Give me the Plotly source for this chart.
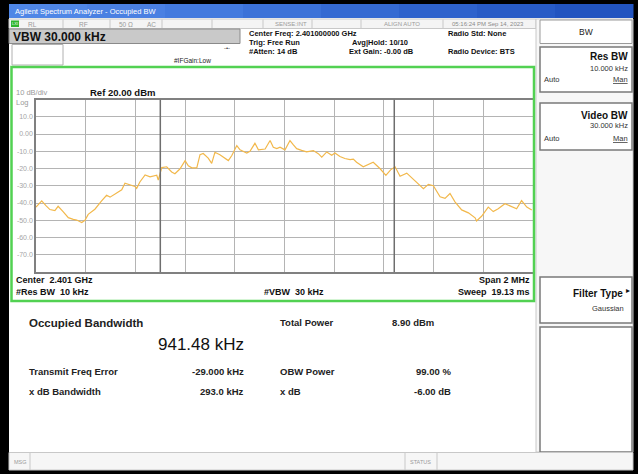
import plotly.graph_objects as go

# ---------------- data ----------------
freq_offset_khz = [-1000, -977, -960, -944, -924, -911, -891, -870, -850, -836, -816, -803,
                   -790, -776, -763, -736, -716, -702, -675, -655, -642, -622, -602, -595,
                   -582, -561, -541, -514, -508, -494, -474, -454, -441, -421, -400, -387,
                   -373, -353, -340, -327, -307, -293, -280, -260, -239, -226, -212, -192,
                   -179, -152, -139, -119, -105, -78, -58, -45, -31, -18, 2, 22, 35, 49, 69,
                   89, 116, 136, 150, 170, 190, 203, 223, 243, 264, 277, 290, 317, 357, 384,
                   408, 427, 445, 465, 492, 518, 532, 559, 579, 599, 626, 646, 666, 686, 713,
                   740, 767, 773, 793, 820, 840, 860, 887, 907, 934, 954, 975, 995]
level_dbm = [-42.4, -38.8, -41.5, -43.8, -44.4, -41.9, -45.0, -48.5, -49.5, -49.9, -51.3, -50.0,
             -46.6, -44.8, -43.6, -38.8, -35.5, -36.6, -34.0, -32.3, -28.5, -29.6, -30.4, -31.5,
             -27.8, -23.7, -24.8, -23.9, -26.7, -19.5, -19.0, -22.0, -23.0, -20.3, -15.5, -18.4,
             -19.6, -19.6, -12.0, -11.3, -14.0, -17.0, -10.6, -12.0, -13.8, -15.4, -12.5, -6.7,
             -9.2, -11.0, -10.0, -5.4, -9.2, -8.7, -3.8, -7.7, -8.5, -7.6, -9.2, -3.8, -6.2,
             -8.5, -9.5, -10.4, -9.6, -11.4, -13.4, -10.4, -12.3, -11.0, -13.0, -14.2, -14.8,
             -14.6, -16.4, -19.0, -16.4, -20.0, -24.0, -20.8, -19.0, -24.5, -22.7, -26.2, -28.0,
             -31.7, -29.2, -30.0, -36.4, -37.3, -34.5, -39.3, -44.0, -45.7, -48.6, -50.4, -47.7,
             -42.4, -45.0, -43.3, -40.4, -41.5, -43.3, -38.6, -42.4, -44.0]

ref_level = 20
db_per_div = 10
y_ticks = [10, 0, -10, -20, -30, -40, -50, -60, -70]
y_tick_labels = ["10.0", "0.00", "-10.0", "-20.0", "-30.0", "-40.0", "-50.0", "-60.0", "-70.0"]
span_khz = 2000
freq_error_khz = -29.0
obw_khz = 941.48

# ---------------- helpers ----------------
W, H = 638, 474
FONT = "Liberation Sans, Arial, sans-serif"


def px(x):
    return x / W


def py(y):
    return 1 - y / H


shapes = []
annots = []


def rect(x0, y0, x1, y1, fill="rgba(0,0,0,0)", line="rgba(0,0,0,0)", lw=1, layer="above"):
    shapes.append(dict(type="rect", xref="paper", yref="paper", x0=px(x0), x1=px(x1),
                       y0=py(y1), y1=py(y0), fillcolor=fill, line=dict(color=line, width=lw),
                       layer=layer))


def vline(x, y0, y1, color="#b8b8b8", lw=1):
    shapes.append(dict(type="line", xref="paper", yref="paper", x0=px(x), x1=px(x),
                       y0=py(y1), y1=py(y0), line=dict(color=color, width=lw)))


def text(x, y, s, size=8, color="#111111", bold=False, anchor="left"):
    if bold:
        s = "<b>" + s + "</b>"
    annots.append(dict(xref="paper", yref="paper", x=px(x), y=py(y), text=s, showarrow=False,
                       xanchor=anchor, yanchor="middle",
                       font=dict(family=FONT, size=size, color=color)))


# ---------------- frame ----------------
rect(9, 4, 633, 470, fill="#ffffff", layer="below")

# title bar (gradient made of strips)
blues = ["#4f86e6", "#4a80e2", "#437ade", "#3c72d8", "#356ad2", "#2e62cc", "#285bc6", "#2254c0"]
n = len(blues)
for i, c in enumerate(blues):
    x0 = 9 + (633 - 9) * i / n
    x1 = 9 + (633 - 9) * (i + 1) / n + 0.5
    rect(x0, 4, x1, 18, fill=c)
text(13, 11, "Agilent Spectrum Analyzer - Occupied BW", size=7.5, color="#ffffff")

# status row
rect(9, 19, 536, 28.5, fill="#f4f4f4", line="#c8c8c8", lw=1)
rect(11, 20.5, 19, 27, fill="#2fb52f")
text(15, 23.8, "LXI", size=4, color="#ffffff", anchor="center")
text(26, 24, "RL", size=6.5, color="#9a9a9a")
for sx in [63, 110, 162, 212, 263, 312, 361, 443]:
    vline(sx, 19.5, 28, color="#c8c8c8")
text(83, 24, "RF", size=6.5, color="#9a9a9a", anchor="center")
text(117, 24, "50 \u03a9", size=6.5, color="#9a9a9a")
text(145, 24, "AC", size=6.5, color="#9a9a9a")
text(291, 24, "SENSE:INT", size=6, color="#9a9a9a", anchor="center")
text(402, 24, "ALIGN AUTO", size=6, color="#9a9a9a", anchor="center")
text(488, 24, "05:16:24 PM Sep 14, 2023", size=6, color="#8a8a8a", anchor="center")

# VBW entry box
rect(9, 29, 240, 43.5, fill="#c9c9c9", line="#8a8a8a", lw=1)
text(11, 36.5, "VBW 30.000 kHz", size=12, color="#111111", bold=True)
rect(12, 44.5, 63, 65, fill="#ffffff", line="#b0b0b0", lw=1)
text(227, 48, "\u2010\u2022\u2010", size=6, color="#333333", anchor="center")
text(192, 60, "#IFGain:Low", size=6.5, color="#222222", anchor="center")

# measurement settings
text(247, 33, "Center Freq: 2.401000000 GHz", size=7.5, bold=True)
text(247, 42, "Trig: Free Run", size=7.5, bold=True)
text(247, 51, "#Atten: 14 dB", size=7.5, bold=True)
text(350, 42, "Avg|Hold: 10/10", size=7.5, bold=True)
text(347, 51, "Ext Gain: -0.00 dB", size=7.5, bold=True)
text(446, 33, "Radio Std: None", size=7.5, bold=True)
text(446, 51, "Radio Device: BTS", size=7.5, bold=True)

# ---------------- right softkey panel ----------------
rect(536, 19, 633, 452, fill="#f7f7f7", line="#c8c8c8", lw=1)
rect(540, 20, 632, 43.5, fill="#ffffff", line="#9a9a9a", lw=1)
text(586, 32, "BW", size=8.5, color="#222222", anchor="center")

rect(540, 47, 632, 92, fill="#ffffff", line="#7a7a7a", lw=1.5)
text(630, 57, "Res BW", size=10, bold=True, anchor="right")
text(630, 68, "10.000 kHz", size=7.5, color="#333333", anchor="right")
text(542, 80, "Auto", size=7.5, color="#333333")
text(630, 80, "<u>Man</u>", size=7.5, color="#333333", anchor="right")

rect(540, 103, 632, 150, fill="#ffffff", line="#7a7a7a", lw=1.5)
text(630, 115, "Video BW", size=10, bold=True, anchor="right")
text(630, 126, "30.000 kHz", size=7.5, color="#333333", anchor="right")
text(542, 138, "Auto", size=7.5, color="#333333")
text(630, 138, "<u>Man</u>", size=7.5, color="#333333", anchor="right")

rect(540, 277, 632, 323, fill="#ffffff", line="#7a7a7a", lw=1.5)
text(625, 293, "Filter Type", size=10, bold=True, anchor="right")
text(632, 290, "\u25b8", size=8, color="#111111", anchor="right")
text(626, 308, "Gaussian", size=7.5, color="#333333", anchor="right")

rect(540, 327, 632, 452, fill="#ffffff", line="#7a7a7a", lw=1.5)

# ---------------- graph panel ----------------
rect(11.5, 67, 534, 301, line="#52d152", lw=2.5)
text(14, 93, "10 dB/div", size=7.5, color="#9a9a9a")
text(88, 93, "Ref 20.00 dBm", size=9.5, bold=True)
text(14, 102.5, "Log", size=7.5, color="#9a9a9a")
text(14, 280, "Center  2.401 GHz", size=9, bold=True)
text(14, 292, "#Res BW  10 kHz", size=9, bold=True)
text(294, 292, "#VBW  30 kHz", size=9, bold=True, anchor="center")
text(532, 280, "Span 2 MHz", size=9, bold=True, anchor="right")
text(532, 292, "Sweep  19.13 ms", size=9, bold=True, anchor="right")

# ---------------- result area ----------------
text(27, 323, "Occupied Bandwidth", size=11.5, color="#222222", bold=True)
text(246, 344, "941.48 kHz", size=17, color="#111111", anchor="right")
text(278, 322, "Total Power", size=9.5, color="#222222", bold=True)
text(390, 322, "8.90 dBm", size=9.5, color="#222222", bold=True)
text(27, 371, "Transmit Freq Error", size=9.5, color="#222222", bold=True)
text(246, 371, "-29.000 kHz", size=9.5, color="#222222", bold=True, anchor="right")
text(278, 371, "OBW Power", size=9.5, color="#222222", bold=True)
text(453, 371, "99.00 %", size=9.5, color="#222222", bold=True, anchor="right")
text(27, 391, "x dB Bandwidth", size=9.5, color="#222222", bold=True)
text(246, 391, "293.0 kHz", size=9.5, color="#222222", bold=True, anchor="right")
text(278, 391, "x dB", size=9.5, color="#222222", bold=True)
text(453, 391, "-6.00 dB", size=9.5, color="#222222", bold=True, anchor="right")

# ---------------- message bar ----------------
rect(9, 452.5, 633, 470, fill="#f6f6f6", line="#c8c8c8", lw=1)
vline(30, 453, 470, color="#c8c8c8")
vline(405, 453, 470, color="#c8c8c8")
vline(437, 453, 470, color="#c8c8c8")
text(12, 461.5, "MSG", size=5.5, color="#9a9a9a")
text(421, 461.5, "STATUS", size=5.5, color="#9a9a9a", anchor="center")

# ---------------- OBW markers (data coordinates) ----------------
obw_lo = freq_error_khz - obw_khz / 2
obw_hi = freq_error_khz + obw_khz / 2
for f in (obw_lo, obw_hi):
    shapes.append(dict(type="line", xref="x", yref="y", x0=f, x1=f,
                       y0=ref_level - 10 * db_per_div, y1=ref_level,
                       line=dict(color="#6e6e6e", width=1.5)))

# ---------------- figure ----------------
fig = go.Figure()
fig.add_trace(go.Scatter(x=freq_offset_khz, y=level_dbm, mode="lines",
                         line=dict(color="#f2b84b", width=1.2), hoverinfo="skip",
                         showlegend=False))

fig.update_layout(
    width=W, height=H,
    margin=dict(l=0, r=0, t=0, b=0),
    paper_bgcolor="#000000",
    plot_bgcolor="#ffffff",
    showlegend=False,
    shapes=shapes,
    annotations=annots,
    font=dict(family=FONT),
    xaxis=dict(domain=[px(36), px(533)], range=[-span_khz / 2, span_khz / 2],
               tickvals=list(range(-1000, 1001, 200)), showticklabels=False,
               showgrid=True, gridcolor="#b4b4b4", gridwidth=1, zeroline=False,
               showline=True, linecolor="#808080", linewidth=1.5, mirror=True,
               fixedrange=True),
    yaxis=dict(domain=[py(272), py(99.5)],
               range=[ref_level - 10 * db_per_div, ref_level],
               tickvals=y_ticks, ticktext=y_tick_labels,
               tickfont=dict(family=FONT, size=7, color="#a5a5a5"),
               showgrid=True, gridcolor="#b4b4b4", gridwidth=1, zeroline=False,
               showline=True, linecolor="#808080", linewidth=1.5, mirror=True,
               ticks="", fixedrange=True),
)

fig.write_html("out.html", config={"displayModeBar": False})

# remove the default page margin so the figure fills the window exactly
with open("out.html", "r", encoding="utf-8") as fh:
    page = fh.read()
page = page.replace("<body>", '<body style="margin:0;padding:0;overflow:hidden;background:#000">', 1)
with open("out.html", "w", encoding="utf-8") as fh:
    fh.write(page)
